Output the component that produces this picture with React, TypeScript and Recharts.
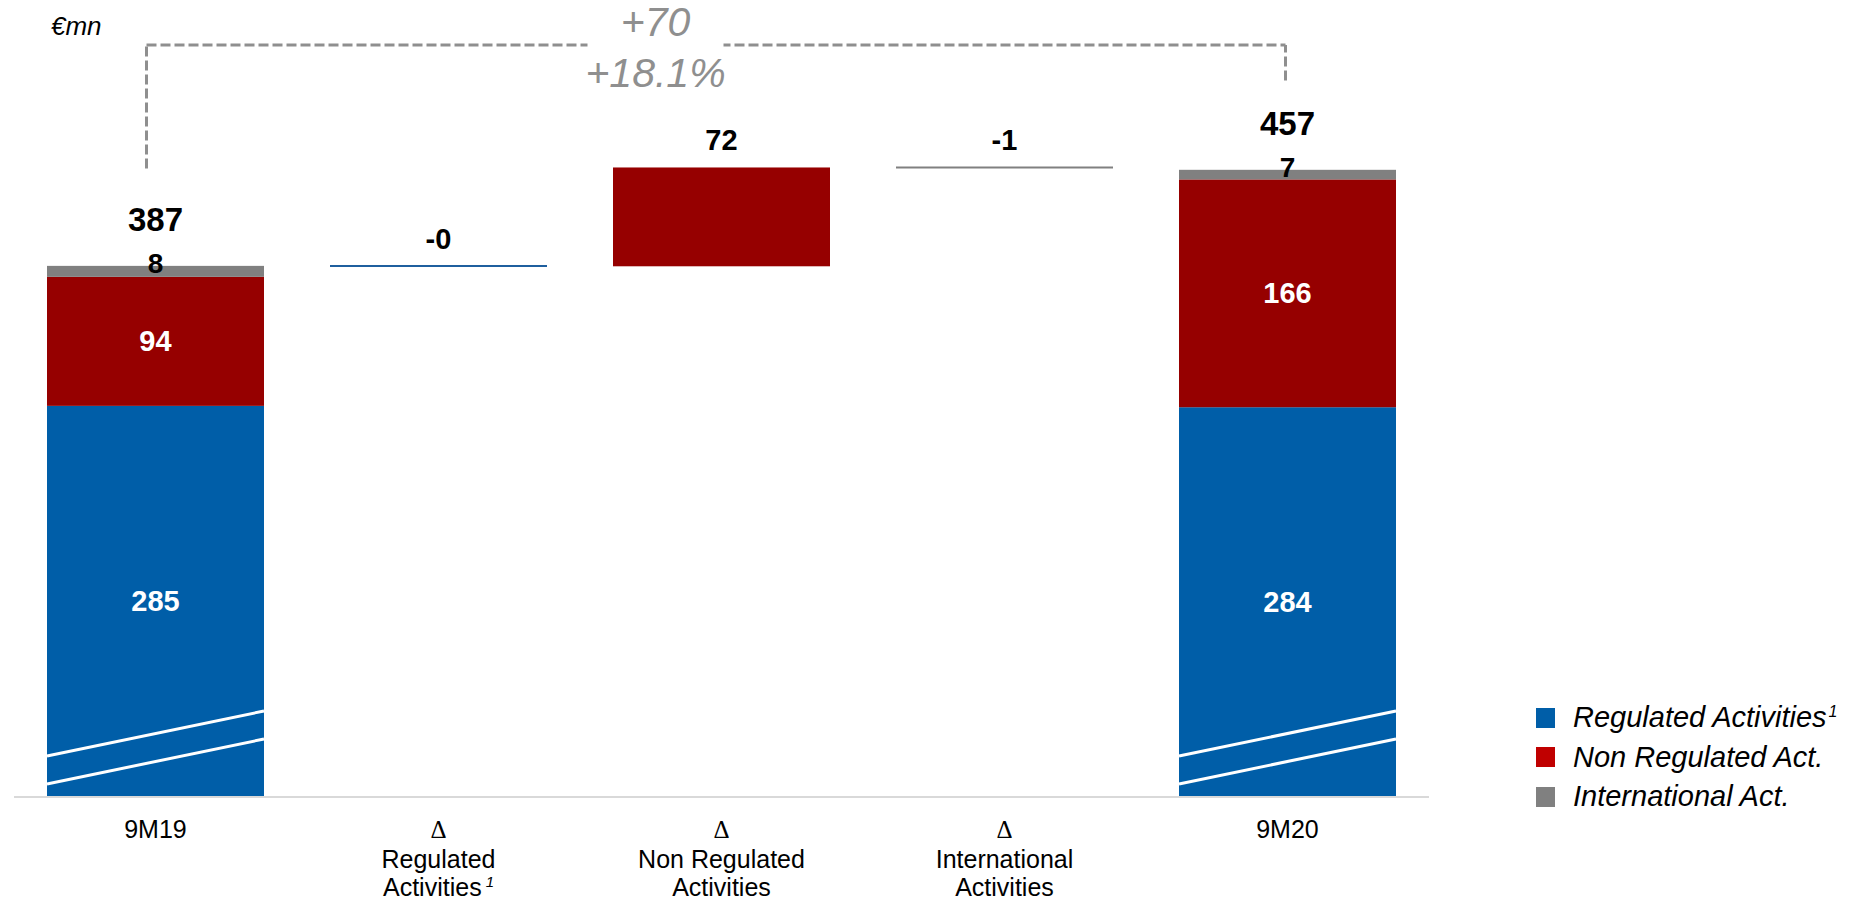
import React from 'react';
import { BarChart, Bar, XAxis, YAxis, LabelList, Legend, ReferenceLine } from 'recharts';

// values in €mn
const categories = ['9M19', 'Δ Regulated Activities', 'Δ Non Regulated Activities', 'Δ International Activities', '9M20'];
const kinds = ['total', 'delta', 'delta', 'delta', 'total'];
const tickLines = [
  ['9M19'],
  ['Δ', 'Regulated', 'Activities'],
  ['Δ', 'Non Regulated', 'Activities'],
  ['Δ', 'International', 'Activities'],
  ['9M20'],
];
const tickFootnote = ['', '1', '', '', ''];

const regulated = [285, -0.3, 0, 0, 284];
const nonRegulated = [94, 0, 72, 0, 166];
const international = [8, 0, 0, -1, 7];

const seriesNames = ['Regulated Activities', 'Non Regulated Act.', 'International Act.'];
const seriesFootnote = ['1', '', ''];

const growthAbs = '+70';
const growthPct = '+18.1%';
// bracket levels (axis units)
const bracketTop = 548;
const bracketLeftFrom = 458;
const bracketRightFrom = 522;

const FONT = '"Liberation Sans", Arial, sans-serif';
const BLUE = '#005EA8';
const RED = '#960000';
const GREY = '#808080';
const LEGEND_COLORS = [BLUE, '#C00000', GREY];
const BRACKET = '#8f8f8f';

// waterfall rows: invisible base + the three segments
let running = 0;
const rows = categories.map((name, i) => {
  const r = regulated[i];
  const n = nonRegulated[i];
  const t = international[i];
  if (kinds[i] === 'total') {
    running = r + n + t;
    return { name, base: 0, reg: r, non: n, intl: t };
  }
  const v = r + n + t;
  const lo = v < 0 ? running + v : running;
  running += v;
  return { name, base: lo, reg: Math.abs(r), non: Math.abs(n), intl: Math.abs(t) };
});

const totals = categories.map((_, i) => regulated[i] + nonRegulated[i] + international[i]);

const fmt = (v: number) => (v < 0 ? '-' + Math.abs(Math.round(v)) : String(Math.round(v)));

function makeShape(values: number[], color: string, lineColor: string, lineWidth: number, breakMarks: boolean) {
  return (props: any) => {
    const { x, y, width, height, index } = props;
    const v = values[index];
    if (!v) return <g />;
    if (kinds[index] === 'delta' && Math.abs(v) < 2) {
      return <line x1={x} x2={x + width} y1={y} y2={y} stroke={lineColor} strokeWidth={lineWidth} />;
    }
    const bottom = y + height;
    return (
      <g>
        <rect x={x} y={y} width={width} height={height} fill={color} />
        {breakMarks && kinds[index] === 'total' && (
          <g stroke="#fff" strokeWidth={3}>
            <line x1={x} y1={bottom - 41} x2={x + width} y2={bottom - 86} />
            <line x1={x} y1={bottom - 13} x2={x + width} y2={bottom - 58} />
          </g>
        )}
      </g>
    );
  };
}

function makeLabel(values: number[], isTop: boolean) {
  return (props: any) => {
    const vb = props.viewBox && props.viewBox.width != null ? props.viewBox : props;
    const { x, y, width, height } = vb;
    const index = props.index;
    const v = values[index];
    if (!v) return null;
    const cx = x + width / 2;
    if (kinds[index] === 'delta') {
      return (
        <text x={cx} y={y - 17} textAnchor="middle" fontFamily={FONT} fontWeight="bold" fontSize={29} fill="#000">
          {fmt(v)}
        </text>
      );
    }
    if (isTop) {
      return (
        <g>
          <text x={cx} y={y + 7} textAnchor="middle" fontFamily={FONT} fontWeight="bold" fontSize={28} fill="#000">
            {fmt(v)}
          </text>
          <text x={cx} y={y - 35} textAnchor="middle" fontFamily={FONT} fontWeight="bold" fontSize={33} fill="#000">
            {fmt(totals[index])}
          </text>
        </g>
      );
    }
    return (
      <text x={cx} y={y + height / 2 + 10} textAnchor="middle" fontFamily={FONT} fontWeight="bold" fontSize={29} fill="#fff">
        {fmt(v)}
      </text>
    );
  };
}

const CategoryTick = (props: any) => {
  const { x, y, payload } = props;
  const i = categories.indexOf(payload.value);
  const lines = tickLines[i] || [payload.value];
  const steps = [41, 30, 28];
  let yy = y;
  return (
    <g>
      {lines.map((l, k) => {
        yy += steps[k];
        const last = k === lines.length - 1;
        return (
          <text key={k} x={x} y={yy} textAnchor="middle" fontSize={25} fill="#000"
            fontFamily={l === 'Δ' ? '"Liberation Serif", serif' : FONT}>
            {l}
            {last && tickFootnote[i] ? (
              <tspan fontSize={15} fontStyle="italic" dx={4} dy={-9}>{tickFootnote[i]}</tspan>
            ) : null}
          </text>
        );
      })}
    </g>
  );
};

const LegendBox = () => (
  <div style={{ fontFamily: FONT }}>
    {seriesNames.map((s, i) => (
      <div key={s} style={{ display: 'flex', alignItems: 'center', height: 39.5 }}>
        <span style={{ display: 'inline-block', width: 19, height: 20, background: LEGEND_COLORS[i], marginRight: 18 }} />
        <span style={{ fontSize: 29, fontStyle: 'italic', color: '#000', lineHeight: 1, whiteSpace: 'nowrap' }}>
          {s}
          {seriesFootnote[i] ? <sup style={{ fontSize: 16, marginLeft: 2 }}>{seriesFootnote[i]}</sup> : null}
        </span>
      </div>
    ))}
  </div>
);

const BracketLabel = (props: any) => {
  const vb = props.viewBox || {};
  const cx = vb.x + vb.width / 2 - 66;
  const y = vb.y;
  return (
    <g>
      <rect x={cx - 68} y={y - 7} width={136} height={14} fill="#fff" />
      <text x={cx} y={y - 9} textAnchor="middle" fontFamily={FONT} fontStyle="italic" fontSize={41} fill={BRACKET}>
        {growthAbs}
      </text>
      <text x={cx} y={y + 42} textAnchor="middle" fontFamily={FONT} fontStyle="italic" fontSize={41} fill={BRACKET}>
        {growthPct}
      </text>
    </g>
  );
};

const shiftedLine = (dx1: number, dx2: number) => (props: any) => (
  <line
    x1={props.x1 + dx1}
    x2={props.x2 + dx2}
    y1={props.y1}
    y2={props.y2}
    stroke={BRACKET}
    strokeWidth={3}
    strokeDasharray="10 4"
  />
);

export default function App() {
  return (
    <div style={{ position: 'absolute', left: 0, top: 0, width: 1866, height: 901, fontFamily: FONT, background: '#fff' }}>
      <div style={{ position: 'absolute', left: 51, top: 13, fontSize: 26, lineHeight: '26px', fontStyle: 'italic', color: '#000' }}>
        €mn
      </div>
      <BarChart width={1866} height={901} data={rows} margin={{ top: 1, right: 437, bottom: 0, left: 14 }} barSize={217}>
        <XAxis
          dataKey="name"
          height={104}
          interval={0}
          tickLine={false}
          tickSize={0}
          tickMargin={0}
          tick={<CategoryTick />}
          axisLine={{ stroke: '#d9d9d9', strokeWidth: 2 }}
        />
        <YAxis hide type="number" domain={[0, 580]} allowDataOverflow />
        <ReferenceLine
          segment={[{ x: categories[0], y: bracketLeftFrom }, { x: categories[0], y: bracketTop }]}
          shape={shiftedLine(-9, -9)}
        />
        <ReferenceLine
          segment={[{ x: categories[4], y: bracketRightFrom }, { x: categories[4], y: bracketTop }]}
          shape={shiftedLine(-2, -2)}
        />
        <ReferenceLine
          segment={[{ x: categories[0], y: bracketTop }, { x: categories[4], y: bracketTop }]}
          shape={shiftedLine(-9, -2)}
          label={<BracketLabel />}
        />
        <Bar dataKey="base" stackId="w" fill="transparent" legendType="none" isAnimationActive={false} />
        <Bar dataKey="reg" stackId="w" name={seriesNames[0]} fill={BLUE} isAnimationActive={false}
          shape={makeShape(regulated, BLUE, '#1f5f9e', 2, true)}>
          <LabelList dataKey="reg" content={makeLabel(regulated, false)} />
        </Bar>
        <Bar dataKey="non" stackId="w" name={seriesNames[1]} fill={RED} isAnimationActive={false}
          shape={makeShape(nonRegulated, RED, RED, 2, false)}>
          <LabelList dataKey="non" content={makeLabel(nonRegulated, false)} />
        </Bar>
        <Bar dataKey="intl" stackId="w" name={seriesNames[2]} fill={GREY} isAnimationActive={false}
          shape={makeShape(international, GREY, GREY, 2, false)}>
          <LabelList dataKey="intl" content={makeLabel(international, true)} />
        </Bar>
        <Legend
          layout="vertical"
          align="center"
          verticalAlign="middle"
          content={<LegendBox />}
          wrapperStyle={{ left: 1536, top: 698, width: 330, bottom: 'auto', right: 'auto' }}
        />
      </BarChart>
    </div>
  );
}
